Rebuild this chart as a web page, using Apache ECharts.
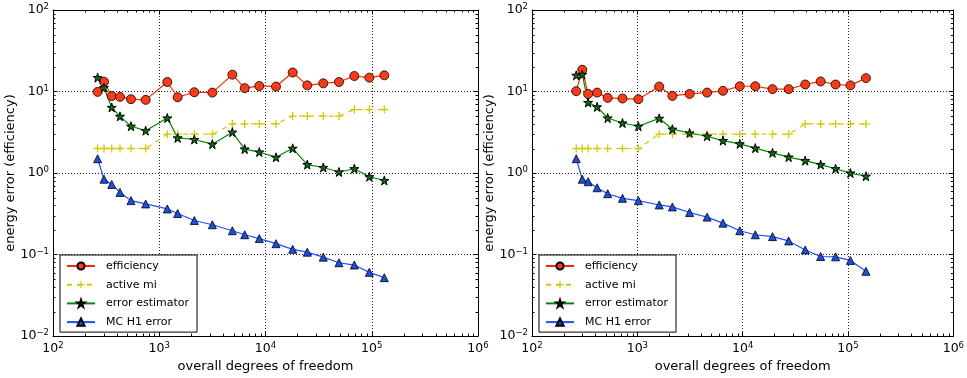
<!DOCTYPE html>
<html>
<head>
<meta charset="utf-8">
<script src="https://cdn.jsdelivr.net/npm/echarts@6/dist/echarts.min.js"></script>
<style>
html,body{margin:0;padding:0;background:#fff;}
#chart{width:967px;height:378px;}
</style>
</head>
<body>
<div id="chart"></div>
<script>
// ---------------- data ----------------
const seriesNames = ['efficiency', 'active mi', 'error estimator', 'MC H1 error'];

const xLeft = [263, 302, 357, 427, 542, 745, 1191, 1490, 2138, 3162, 4876, 6370, 8743, 12560, 18030, 24730, 34980, 49170, 68550, 94880, 131300];
const effLeft = [9.9, 13.2, 8.8, 8.6, 8.05, 7.9, 13.1, 8.5, 9.8, 9.7, 16.1, 11.0, 11.7, 11.5, 17.1, 11.9, 12.6, 13.1, 15.5, 14.8, 15.8];
const miLeft = [2, 2, 2, 2, 2, 2, 3, 3, 3, 3, 4, 4, 4, 4, 5, 5, 5, 5, 6, 6, 6];
const estLeft = [14.8, 11.2, 6.38, 4.96, 3.75, 3.31, 4.73, 2.70, 2.58, 2.26, 3.17, 1.97, 1.81, 1.56, 2.01, 1.27, 1.17, 1.03, 1.13, 0.90, 0.81];
const errLeft = [1.50, 0.84, 0.725, 0.579, 0.459, 0.418, 0.363, 0.319, 0.262, 0.232, 0.196, 0.175, 0.157, 0.136, 0.116, 0.107, 0.093, 0.0794, 0.0744, 0.0605, 0.0521];

const xRight = [263, 300, 341, 415, 523, 723, 1023, 1612, 2152, 3133, 4595, 6500, 9390, 13180, 19190, 27340, 39260, 55000, 76200, 105400, 148000];
const effRight = [10.1, 18.5, 9.34, 9.7, 8.36, 8.2, 8.05, 11.5, 8.83, 9.34, 9.7, 10.2, 11.6, 11.6, 10.7, 10.7, 12.2, 13.3, 12.2, 11.9, 14.6];
const miRight = [2, 2, 2, 2, 2, 2, 2, 3, 3, 3, 3, 3, 3, 3, 3, 3, 4, 4, 4, 4, 4];
const estRight = [15.8, 16.2, 7.33, 6.48, 4.73, 4.11, 3.75, 4.69, 3.45, 3.10, 2.83, 2.50, 2.28, 2.02, 1.77, 1.57, 1.42, 1.27, 1.13, 1.00, 0.914];
const errRight = [1.50, 0.84, 0.782, 0.660, 0.558, 0.490, 0.459, 0.406, 0.384, 0.328, 0.288, 0.243, 0.196, 0.175, 0.166, 0.147, 0.114, 0.0947, 0.0939, 0.0848, 0.0623];

// axis ranges / ticks
const xMin = 100, xMax = 1e6;
const yMin = 0.01, yMax = 100;
const xDecades = [100, 1000, 10000, 100000];
const yDecades = [0.01, 0.1, 1, 10];
const minorMultipliers = [2, 3, 4, 5, 6, 7, 8, 9];

const xTitle = 'overall degrees of freedom';
const yTitle = 'energy error (efficiency)';

// ---------------- styling ----------------
const FONT = 'DejaVu Sans';
const STAR = 'path://M50,0 L61.2,34.5 L97.6,34.5 L68.2,55.9 L79.4,90.5 L50,69.1 L20.6,90.5 L31.8,55.9 L2.4,34.5 L38.8,34.5 Z';
const PLUS = 'path://M4.2,0 H5.8 V4.2 H10 V5.8 H5.8 V10 H4.2 V5.8 H0 V4.2 H4.2 Z';

function pair(xs, ys) { return xs.map((x, i) => [x, ys[i]]); }
const xMinorVals = [];
xDecades.forEach(d => minorMultipliers.forEach(m => xMinorVals.push([d * m, 1])));
const yMinorVals = [];
yDecades.forEach(d => minorMultipliers.forEach(m => yMinorVals.push([1000, d * m])));

function expLabel(v) {
  const e = Math.round(Math.log10(v));
  const s = e < 0 ? '\u2212' + (-e) : String(e);
  return '{b|10}{s|' + s + '}';
}
const richLabel = {
  b: { fontFamily: FONT, fontSize: 12.5, color: '#000', lineHeight: 15 },
  s: { fontFamily: FONT, fontSize: 8.5, color: '#000', verticalAlign: 'top', lineHeight: 10 }
};

const gridsPos = [{ left: 53, top: 10, width: 425, height: 329 }, { left: 532, top: 10, width: 425, height: 329 }];

const option = { animation: false, backgroundColor: '#fff', grid: [], xAxis: [], yAxis: [], series: [], legend: [] };

const MINOR_LEN = 2.5;

gridsPos.forEach((g, gi) => {
  option.grid.push({ left: g.left, top: g.top, width: g.width, height: g.height, show: false });
  option.xAxis.push({
    type: 'log', logBase: 10, min: xMin, max: xMax, splitNumber: 4, gridIndex: gi, position: 'bottom',
    name: xTitle, nameLocation: 'middle', nameGap: 22,
    nameTextStyle: { fontFamily: FONT, fontSize: 13, color: '#000' },
    axisLine: { show: true, lineStyle: { color: '#000', width: 1 } },
    axisTick: { show: true, inside: true, length: 4.5, lineStyle: { color: '#000', width: 1 } },
    axisLabel: { show: true, margin: 5, formatter: expLabel, rich: richLabel },
    splitLine: { show: true, lineStyle: { color: '#222', width: 1, type: [1, 2] } },
    minorTick: { show: false }
  });
  option.xAxis.push({
    type: 'log', logBase: 10, min: xMin, max: xMax, splitNumber: 4, gridIndex: gi, position: 'top',
    axisLine: { show: true, lineStyle: { color: '#000', width: 1 } },
    axisTick: { show: true, inside: true, length: 4.5, lineStyle: { color: '#000', width: 1 } },
    axisLabel: { show: false }, splitLine: { show: false }
  });
  option.yAxis.push({
    type: 'log', logBase: 10, min: yMin, max: yMax, splitNumber: 4, gridIndex: gi, position: 'left',
    name: yTitle, nameLocation: 'middle', nameGap: 28, nameRotate: 90,
    nameTextStyle: { fontFamily: FONT, fontSize: 13, color: '#000' },
    axisLine: { show: true, lineStyle: { color: '#000', width: 1 } },
    axisTick: { show: true, inside: true, length: 4.5, lineStyle: { color: '#000', width: 1 } },
    axisLabel: { show: true, margin: 4, formatter: expLabel, rich: richLabel },
    splitLine: { show: true, lineStyle: { color: '#222', width: 1, type: [1, 2] } }
  });
  option.yAxis.push({
    type: 'log', logBase: 10, min: yMin, max: yMax, splitNumber: 4, gridIndex: gi, position: 'right',
    axisLine: { show: true, lineStyle: { color: '#000', width: 1 } },
    axisTick: { show: true, inside: true, length: 4.5, lineStyle: { color: '#000', width: 1 } },
    axisLabel: { show: false }, splitLine: { show: false }
  });

  const xi = gi * 2, yi = gi * 2;
  const xs = gi === 0 ? xLeft : xRight;
  const eff = gi === 0 ? effLeft : effRight;
  const mi = gi === 0 ? miLeft : miRight;
  const est = gi === 0 ? estLeft : estRight;
  const err = gi === 0 ? errLeft : errRight;

  option.series.push({
    name: seriesNames[0], type: 'line', xAxisIndex: xi, yAxisIndex: yi, data: pair(xs, eff),
    symbol: 'circle', symbolSize: 9,
    lineStyle: { color: '#ff2a00', width: 1.2 },
    itemStyle: { color: '#ff3a15', borderColor: '#000', borderWidth: 0.8 }, z: 3
  });
  option.series.push({
    name: seriesNames[1], type: 'line', xAxisIndex: xi, yAxisIndex: yi, data: pair(xs, mi),
    symbol: PLUS, symbolSize: 8,
    lineStyle: { color: '#cccc00', width: 1.2, type: [5, 5] },
    itemStyle: { color: '#cccc00', borderWidth: 0 }, z: 3
  });
  option.series.push({
    name: seriesNames[2], type: 'line', xAxisIndex: xi, yAxisIndex: yi, data: pair(xs, est),
    symbol: STAR, symbolSize: 9,
    lineStyle: { color: '#008a00', width: 1.2 },
    itemStyle: { color: '#0b6e0b', borderColor: '#000', borderWidth: 1 }, z: 3
  });
  option.series.push({
    name: seriesNames[3], type: 'line', xAxisIndex: xi, yAxisIndex: yi, data: pair(xs, err),
    symbol: 'triangle', symbolSize: 8,
    lineStyle: { color: '#1f4fff', width: 1.2 },
    itemStyle: { color: '#1a4fe6', borderColor: '#000', borderWidth: 0.8 }, z: 3
  });
  option.series.push({
    type: 'custom', coordinateSystem: 'cartesian2d', xAxisIndex: xi, yAxisIndex: yi, silent: true, z: 5, clip: false,
    data: xMinorVals,
    renderItem: function (params, api) {
      const p = api.coord([api.value(0), api.value(1)]);
      const cs = params.coordSys;
      const x = Math.round(p[0]) + 0.5;
      return { type: 'group', children: [
        { type: 'line', shape: { x1: x, y1: cs.y + cs.height, x2: x, y2: cs.y + cs.height - MINOR_LEN }, style: { stroke: '#000', lineWidth: 1 } },
        { type: 'line', shape: { x1: x, y1: cs.y, x2: x, y2: cs.y + MINOR_LEN }, style: { stroke: '#000', lineWidth: 1 } }
      ] };
    }
  });
  option.series.push({
    type: 'custom', coordinateSystem: 'cartesian2d', xAxisIndex: xi, yAxisIndex: yi, silent: true, z: 5, clip: false,
    data: yMinorVals,
    renderItem: function (params, api) {
      const p = api.coord([api.value(0), api.value(1)]);
      const cs = params.coordSys;
      const y = Math.round(p[1]) + 0.5;
      return { type: 'group', children: [
        { type: 'line', shape: { x1: cs.x, y1: y, x2: cs.x + MINOR_LEN, y2: y }, style: { stroke: '#000', lineWidth: 1 } },
        { type: 'line', shape: { x1: cs.x + cs.width, y1: y, x2: cs.x + cs.width - MINOR_LEN, y2: y }, style: { stroke: '#000', lineWidth: 1 } }
      ] };
    }
  });

  option.legend.push({
    data: seriesNames, orient: 'vertical', left: g.left + 7, top: 255,
    padding: [5, 8, 4, 6], itemGap: 6.7, itemWidth: 28, itemHeight: 9,
    backgroundColor: '#fff', borderColor: '#000', borderWidth: 1, borderRadius: 0,
    selectedMode: false,
    textStyle: { fontFamily: FONT, fontSize: 11, color: '#000', lineHeight: 12, padding: [0, 0, 0, 6] }
  });
});

const chart = echarts.init(document.getElementById('chart'), null, { renderer: 'canvas' });
chart.setOption(option);
</script>
</body>
</html>
